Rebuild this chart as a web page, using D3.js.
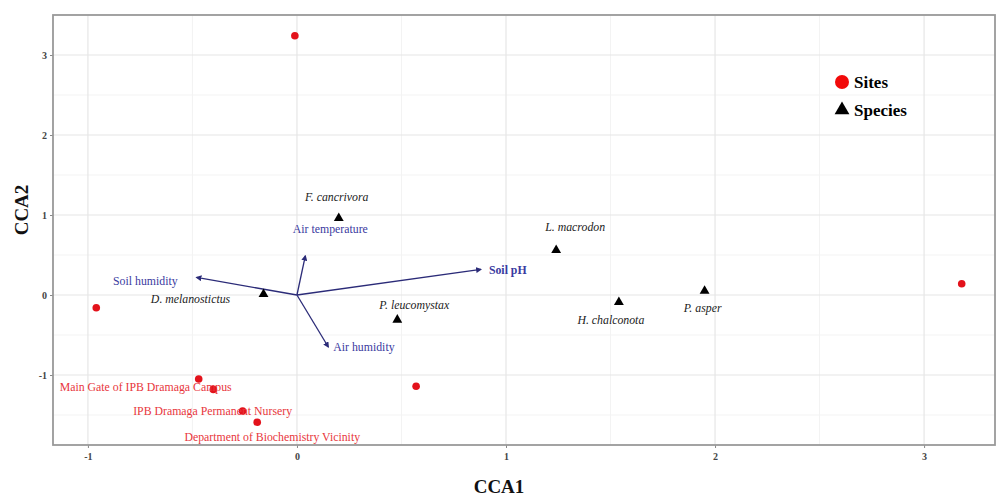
<!DOCTYPE html>
<html>
<head>
<meta charset="utf-8">
<script src="https://cdn.jsdelivr.net/npm/d3@7"></script>
<style>
  body { margin: 0; background: #fff; }
  text { font-family: "Liberation Serif", "DejaVu Serif", serif; }
</style>
</head>
<body>
<div id="canvas"></div>
<script>
// sites (red points)
const siteNames = ["Site A", "Site B", "Main Gate of IPB Dramaga Campus", "Site D",
                   "IPB Dramaga Permanent Nursery", "Department of Biochemistry Vicinity", "Site G", "Site H"];
const siteCCA1 = [-0.01, -0.96, -0.47, -0.40, -0.26, -0.19, 0.57, 3.18];
const siteCCA2 = [3.24, -0.16, -1.05, -1.18, -1.45, -1.59, -1.14, 0.14];
const siteLabelled = [false, false, true, false, true, true, false, false];

// species (black triangles)
const speciesNames = ["F. cancrivora", "L. macrodon", "D. melanostictus", "P. leucomystax", "H. chalconota", "P. asper"];
const speciesCCA1 = [0.20, 1.24, -0.16, 0.48, 1.54, 1.95];
const speciesCCA2 = [0.96, 0.56, 0.01, -0.31, -0.09, 0.05];

// environmental vectors
const envNames = ["Air temperature", "Soil pH", "Soil humidity", "Air humidity"];
const envCCA1 = [0.04, 0.88, -0.48, 0.15];
const envCCA2 = [0.49, 0.32, 0.22, -0.65];

const xTicks = [-1, 0, 1, 2, 3];
const yTicks = [-1, 0, 1, 2, 3];

// label placement (pixel offsets from the mark)
const siteLabelPos = {2: [-53, 8], 4: [-30, 0], 5: [15, 15]};
const speciesLabelPos = [[-2, -21, "middle"], [19, -23, "middle"], [-73, 5, "middle"],
                         [17, -15, "middle"], [-8, 18, "middle"], [-2, 17, "middle"]];
const envLabelPos = [[25, -27, "middle"], [8, 0, "start"], [-19, 3, "end"], [5, 0, "start"]];

const width = 996, height = 500;
const margin = {left: 53, top: 15, right: 0, bottom: 55};
const labelSize = "11.8px";

const svg = d3.select("#canvas").append("svg").attr("width", width).attr("height", height);

const x = d3.scaleLinear().domain([-1.167, 3.344]).range([margin.left, width - margin.right]);
const y = d3.scaleLinear().domain([-1.875, 3.5]).range([height - margin.bottom, margin.top]);

const plot = svg.append("g");
plot.append("rect").attr("x", margin.left).attr("y", margin.top)
    .attr("width", width - margin.right - margin.left).attr("height", height - margin.bottom - margin.top)
    .attr("fill", "#fff");

// minor grid
const xMinor = d3.range(-1, 3.5, 0.5).filter(v => !xTicks.includes(v));
const yMinor = d3.range(-1.5, 3.5, 0.5).filter(v => !yTicks.includes(v));
plot.append("g").selectAll("line").data(xMinor).enter().append("line")
    .attr("x1", d => x(d)).attr("x2", d => x(d)).attr("y1", y.range()[0]).attr("y2", y.range()[1])
    .attr("stroke", "#f3f3f3").attr("stroke-width", 1);
plot.append("g").selectAll("line").data(yMinor).enter().append("line")
    .attr("y1", d => y(d)).attr("y2", d => y(d)).attr("x1", x.range()[0]).attr("x2", x.range()[1])
    .attr("stroke", "#f3f3f3").attr("stroke-width", 1);
// major grid
plot.append("g").selectAll("line").data(xTicks).enter().append("line")
    .attr("x1", d => x(d)).attr("x2", d => x(d)).attr("y1", y.range()[0]).attr("y2", y.range()[1])
    .attr("stroke", "#e6e6e6").attr("stroke-width", 1.2);
plot.append("g").selectAll("line").data(yTicks).enter().append("line")
    .attr("y1", d => y(d)).attr("y2", d => y(d)).attr("x1", x.range()[0]).attr("x2", x.range()[1])
    .attr("stroke", "#e6e6e6").attr("stroke-width", 1.2);

// axes
const fmt = d => String(d);
const xAxis = svg.append("g").attr("transform", "translate(0," + y.range()[0] + ")")
    .call(d3.axisBottom(x).tickValues(xTicks).tickSize(3).tickFormat(fmt));
const yAxis = svg.append("g").attr("transform", "translate(" + margin.left + ",0)")
    .call(d3.axisLeft(y).tickValues(yTicks).tickSize(3).tickFormat(fmt));
[xAxis, yAxis].forEach(a => {
    a.select(".domain").remove();
    a.selectAll(".tick line").attr("stroke", "#888");
    a.selectAll(".tick text").attr("fill", "#444").style("font-size", "10px")
        .style("font-family", "Liberation Serif, serif").style("font-weight", "bold");
});
xAxis.selectAll(".tick text").attr("dy", "0.9em");

// panel border
svg.append("rect").attr("x", margin.left).attr("y", margin.top)
    .attr("width", width - margin.right - margin.left - 1).attr("height", height - margin.bottom - margin.top)
    .attr("fill", "none").attr("stroke", "#999").attr("stroke-width", 1.8);

// axis titles
svg.append("text").attr("x", 499).attr("y", 493).attr("text-anchor", "middle")
    .style("font-size", "19px").style("font-weight", "bold").attr("fill", "#111").text("CCA1");
svg.append("text").attr("transform", "translate(28,210) rotate(-90)").attr("text-anchor", "middle")
    .style("font-size", "19px").style("font-weight", "bold").attr("fill", "#111").text("CCA2");

// arrow marker
svg.append("defs").append("marker").attr("id", "arrow")
    .attr("viewBox", "0 0 10 10").attr("refX", 8).attr("refY", 5)
    .attr("markerWidth", 6).attr("markerHeight", 6).attr("markerUnits", "userSpaceOnUse")
    .attr("orient", "auto")
    .append("path").attr("d", "M0,0 L10,5 L0,10 z").attr("fill", "#2b2b78");

// environmental vectors
const envData = envNames.map((n, i) => ({name: n, x: envCCA1[i], y: envCCA2[i], pos: envLabelPos[i]}));
plot.append("g").selectAll("line").data(envData).enter().append("line")
    .attr("x1", x(0)).attr("y1", y(0)).attr("x2", d => x(d.x)).attr("y2", d => y(d.y))
    .attr("stroke", "#2b2b78").attr("stroke-width", 1.3).attr("marker-end", "url(#arrow)");
plot.append("g").selectAll("text").data(envData).enter().append("text")
    .attr("x", d => x(d.x) + d.pos[0]).attr("y", d => y(d.y) + d.pos[1])
    .attr("dy", "0.35em").attr("text-anchor", d => d.pos[2])
    .style("font-size", labelSize).style("font-weight", d => d.name == "Soil pH" ? "bold" : "normal")
    .attr("fill", "#3a3aa0").text(d => d.name);

// species
const speciesData = speciesNames.map((n, i) => ({name: n, x: speciesCCA1[i], y: speciesCCA2[i], pos: speciesLabelPos[i]}));
plot.append("g").selectAll("path").data(speciesData).enter().append("path")
    .attr("transform", d => "translate(" + x(d.x) + "," + y(d.y) + ")")
    .attr("d", d3.symbol().type(d3.symbolTriangle).size(42)).attr("fill", "#000");
plot.append("g").selectAll("text").data(speciesData).enter().append("text")
    .attr("x", d => x(d.x) + d.pos[0]).attr("y", d => y(d.y) + d.pos[1])
    .attr("dy", "0.35em").attr("text-anchor", d => d.pos[2])
    .style("font-size", labelSize).style("font-style", "italic").attr("fill", "#222").text(d => d.name);

// sites
const siteData = siteNames.map((n, i) => ({name: n, x: siteCCA1[i], y: siteCCA2[i], i: i}));
plot.append("g").selectAll("circle").data(siteData).enter().append("circle")
    .attr("cx", d => x(d.x)).attr("cy", d => y(d.y)).attr("r", 3.8).attr("fill", "#e3121b");
plot.append("g").selectAll("text").data(siteData.filter(d => siteLabelled[d.i])).enter().append("text")
    .attr("x", d => x(d.x) + siteLabelPos[d.i][0]).attr("y", d => y(d.y) + siteLabelPos[d.i][1])
    .attr("dy", "0.35em").attr("text-anchor", "middle")
    .style("font-size", labelSize).attr("fill", "#e8363c").text(d => d.name);

// legend
const legend = svg.append("g").attr("transform", "translate(842,82)");
legend.append("circle").attr("cx", 0).attr("cy", 0).attr("r", 7).attr("fill", "#f20a0a");
legend.append("path").attr("transform", "translate(0,28)")
    .attr("d", d3.symbol().type(d3.symbolTriangle).size(95)).attr("fill", "#000");
legend.append("text").attr("x", 12).attr("y", 0).attr("dy", "0.35em")
    .style("font-size", "17px").style("font-weight", "bold").attr("fill", "#000").text("Sites");
legend.append("text").attr("x", 12).attr("y", 28).attr("dy", "0.35em")
    .style("font-size", "17px").style("font-weight", "bold").attr("fill", "#000").text("Species");
</script>
</body>
</html>
